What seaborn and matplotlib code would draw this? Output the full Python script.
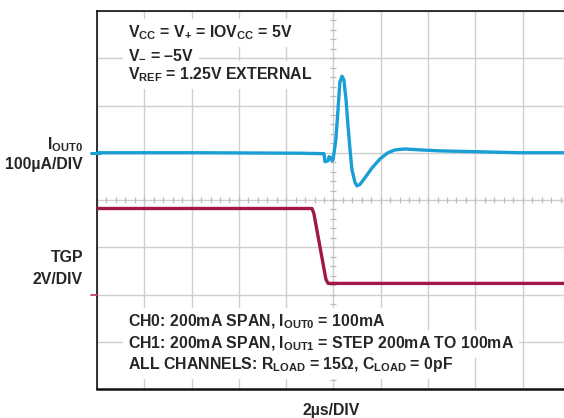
import numpy as np
import pandas as pd
import matplotlib
matplotlib.use("Agg")
import matplotlib.pyplot as plt
import seaborn as sns

# ---- scope settings -------------------------------------------------------
T_PER_DIV = 2.0          # µs/div
I_PER_DIV = 100.0        # µA/div (IOUT0 channel)
V_PER_DIV = 2.0          # V/div (TGP channel)
IOUT0_GROUND_DIV = 5.0   # channel reference level (divisions from bottom)
TGP_GROUND_DIV = 2.0

# ---- IOUT0 glitch (µs, µA relative to 100mA level) -------------------------
iout_t = [0.0, 4.35, 8.58, 9.60, 9.64, 9.77, 9.81, 9.89, 9.94, 9.98, 10.10,
          10.19, 10.27, 10.36, 10.44, 10.53, 10.61, 10.70, 10.78, 10.91, 10.99,
          11.12, 11.33, 11.63, 11.97, 12.30, 12.60, 13.02, 13.66, 14.50, 16.19,
          17.88, 20.0]
iout_ua = [0.0, 0.0, -1.0, -2.0, -19.0, -17.0, -8.5, -10.6, -17.0, -15.0, 27.5,
           91.0, 150.0, 162.0, 154.0, 112.0, 59.0, 6.0, -36.0, -63.0, -70.0,
           -67.0, -53.0, -32.0, -13.0, 0.0, 6.0, 8.0, 6.0, 4.0, 2.0,
           0.0, 0.0]

# ---- TGP edge (µs, V) ------------------------------------------------------
tgp_t = [0.0, 9.09, 9.17, 9.68, 9.77, 20.0]
tgp_v = [3.64, 3.64, 3.43, 0.64, 0.47, 0.47]

BLUE = "#1a9ed6"
RED = "#a2174b"
GRID = "#cfcfcf"

sns.set_style("white")
plt.rcParams["font.family"] = ["Liberation Sans", "DejaVu Sans"]
plt.rcParams["font.weight"] = "bold"
plt.rcParams["mathtext.fontset"] = "custom"
plt.rcParams["mathtext.rm"] = "Liberation Sans:bold"
plt.rcParams["mathtext.it"] = "Liberation Sans:bold"
plt.rcParams["mathtext.bf"] = "Liberation Sans:bold"

fig = plt.figure(figsize=(5.64, 4.18), dpi=100)
W, H = 564, 418
x0, x1, y0, y1 = 97, 570, 389, 11
ax = fig.add_axes([x0 / W, (H - y0) / H, (x1 - x0) / W, (y0 - y1) / H])

df_i = pd.DataFrame({"t": iout_t,
                     "div": IOUT0_GROUND_DIV + np.array(iout_ua) / I_PER_DIV})
df_v = pd.DataFrame({"t": tgp_t,
                     "div": TGP_GROUND_DIV + np.array(tgp_v) / V_PER_DIV})

# graticule
ax.set_xlim(0, 10 * T_PER_DIV)
ax.set_ylim(0, 8)
ax.set_xticks(np.arange(0, 10 * T_PER_DIV + 0.01, T_PER_DIV))
ax.set_yticks(np.arange(0, 9, 1))
ax.grid(True, color=GRID, lw=1.0, zorder=0)
ax.tick_params(length=0, labelbottom=False, labelleft=False)

# centre lines with fine subdivision ticks
xc = 5 * T_PER_DIV
yc = 4.0
fine_x = np.arange(0, 10 * T_PER_DIV + 0.001, T_PER_DIV / 5)
fine_y = np.arange(0, 8.001, 0.2)
ax.plot(fine_x, np.full_like(fine_x, yc), ls="none", marker="|", ms=5,
        mew=0.9, color="#bdbdbd", zorder=1)
ax.plot(np.full_like(fine_y, xc), fine_y, ls="none", marker="_", ms=5,
        mew=0.9, color="#bdbdbd", zorder=1)

sns.lineplot(data=df_i, x="t", y="div", ax=ax, color=BLUE, lw=2.4,
             zorder=4, estimator=None, sort=False)
sns.lineplot(data=df_v, x="t", y="div", ax=ax, color=RED, lw=2.4,
             zorder=4, estimator=None, sort=False)
ax.set_xlabel("")
ax.set_ylabel("")

# channel ground markers at the left edge
ytr = ax.get_yaxis_transform()
ax.plot([-0.013, 0.006], [IOUT0_GROUND_DIV] * 2, color=BLUE, lw=2.2,
        transform=ytr, clip_on=False, zorder=5)
ax.plot([-0.013, 0.0], [TGP_GROUND_DIV] * 2, color="#c2406a", lw=1.3,
        transform=ytr, clip_on=False, zorder=5)

for side in ["left", "bottom", "top", "right"]:
    ax.spines[side].set_color("#111111")
ax.spines["left"].set_linewidth(1.2)
ax.spines["top"].set_linewidth(1.2)
ax.spines["bottom"].set_linewidth(1.8)

FS = 11.4
box = dict(facecolor="white", edgecolor="none", pad=3.5)
axtr = ax.transAxes


def fx(px):
    return (px - x0) / (x1 - x0)


def fy(py):
    return (y0 - py) / (y0 - y1)


top_lines = [
    r"V$_{CC}$ = V$_{+}$ = IOV$_{CC}$ = 5V",
    r"V$_{-}$ = –5V",
    r"V$_{REF}$ = 1.25V EXTERNAL",
]
for line, py in zip(top_lines, [33, 54, 75]):
    ax.text(fx(128), fy(py), line, transform=axtr, fontsize=FS,
            fontweight="bold", va="center", ha="left", bbox=box, zorder=6)

bottom_lines = [
    r"CH0: 200mA SPAN, I$_{OUT0}$ = 100mA",
    r"CH1: 200mA SPAN, I$_{OUT1}$ = STEP 200mA TO 100mA",
    r"ALL CHANNELS: R$_{LOAD}$ = 15Ω, C$_{LOAD}$ = 0pF",
]
for line, py in zip(bottom_lines, [322, 344, 365]):
    ax.text(fx(128), fy(py), line, transform=axtr, fontsize=FS,
            fontweight="bold", va="center", ha="left", bbox=box, zorder=6)

# channel labels
fig.text(83 / W, 1 - 145 / H, r"I$_{OUT0}$", fontsize=FS, fontweight="bold",
         ha="right", va="center")
fig.text(83 / W, 1 - 164 / H, "100µA/DIV", fontsize=FS, fontweight="bold",
         ha="right", va="center")
fig.text(83 / W, 1 - 257 / H, "TGP", fontsize=FS, fontweight="bold",
         ha="right", va="center")
fig.text(83 / W, 1 - 279 / H, "2V/DIV", fontsize=FS, fontweight="bold",
         ha="right", va="center")
fig.text(331 / W, 1 - 411 / H, "2µs/DIV", fontsize=FS, fontweight="bold",
         ha="center", va="center")

fig.savefig("out.png", dpi=100)
